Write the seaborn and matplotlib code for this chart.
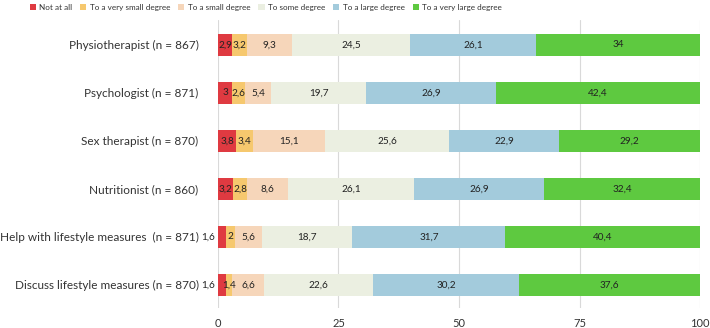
import matplotlib
matplotlib.use("Agg")
import matplotlib.pyplot as plt
import seaborn as sns
import pandas as pd
import numpy as np

# ---------------------------
# DATA
# ---------------------------
categories = [
    "Physiotherapist (n = 867)",
    "Psychologist (n = 871)",
    "Sex therapist (n = 870)",
    "Nutritionist (n = 860)",
    "Help with lifestyle measures  (n = 871)",
    "Discuss lifestyle measures (n = 870)",
]
levels = ["Not at all", "To a very small degree", "To a small degree",
          "To some degree", "To a large degree", "To a very large degree"]
not_at_all = [2.9, 3.0, 3.8, 3.2, 1.6, 1.6]
very_small = [3.2, 2.6, 3.4, 2.8, 2.0, 1.4]
small = [9.3, 5.4, 15.1, 8.6, 5.6, 6.6]
some = [24.5, 19.7, 25.6, 26.1, 18.7, 22.6]
large = [26.1, 26.9, 22.9, 26.9, 31.7, 30.2]
very_large = [34.0, 42.4, 29.2, 32.4, 40.4, 37.6]
xticks = [0, 25, 50, 75, 100]

colors = ["#DF3A41", "#F6C86E", "#F6D6BA", "#EBEFE1", "#A3CBDC", "#5EC940"]

series = [not_at_all, very_small, small, some, large, very_large]
df = pd.DataFrame(dict(zip(levels, series)), index=categories)
cum = df.cumsum(axis=1)

# ---------------------------
# PLOT
# ---------------------------
sns.set_style("white")
plt.rcParams["font.family"] = ["Lato", "DejaVu Sans"]

fig = plt.figure(figsize=(7.1, 3.28), dpi=100)
ax = fig.add_axes([0.307, 0.061, 0.679, 0.878])

# draw cumulative bars from the widest down so each segment shows
for lvl, col in reversed(list(zip(levels, colors))):
    sns.barplot(x=cum[lvl].values, y=categories, orient="h", color=col,
                width=0.46, ax=ax, label=lvl, saturation=1, linewidth=0)

# data labels (a tiny first segment gets its label left of the bar)
for i, cat in enumerate(categories):
    left = 0
    for j, lvl in enumerate(levels):
        v = df.loc[cat, lvl]
        txt = f"{v:g}".replace(".", ",")
        if j == 0 and v < 2:
            ax.text(left - 0.6, i, txt, ha="right", va="center", fontsize=7.2, color="#222222")
        else:
            ax.text(left + v / 2, i, txt, ha="center", va="center", fontsize=7.2, color="#222222")
        left += v

ax.set_xlim(0, 100)
ax.set_ylim(5.48, -0.52)
ax.set_xticks(xticks)
ax.set_xticklabels([str(t) for t in xticks])
ax.grid(axis="x", color="#D9D9D9", linewidth=0.8)
ax.set_axisbelow(True)
for s in ax.spines.values():
    s.set_visible(False)
ax.tick_params(axis="both", length=0, colors="#333333")
ax.tick_params(axis="y", pad=14, labelsize=8.5)
ax.tick_params(axis="x", pad=7, labelsize=8)
ax.set_xlabel("")
ax.set_ylabel("")

# legend in original order, at the top of the figure
handles, labels = ax.get_legend_handles_labels()
order = [labels.index(l) for l in levels]
if ax.legend_:
    ax.legend_.remove()
fig.legend([handles[k] for k in order], levels, loc="upper left",
           bbox_to_anchor=(0.037, 0.998), ncol=6, frameon=False, fontsize=5.9,
           handlelength=0.75, handleheight=0.75, handletextpad=0.4,
           columnspacing=1.0, labelcolor="#333333", borderaxespad=0)

fig.savefig("out.png", dpi=100)
